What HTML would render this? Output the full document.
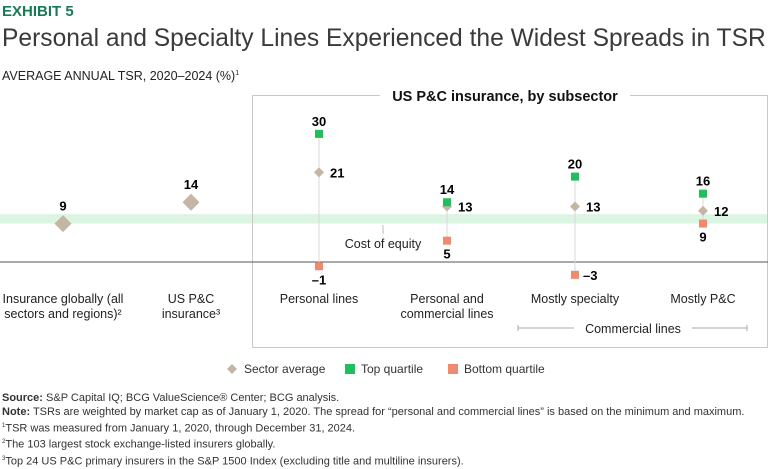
<!DOCTYPE html>
<html><head><meta charset="utf-8"><style>
body{margin:0;width:768px;height:461px;background:#fff;font-family:"Liberation Sans",sans-serif;overflow:hidden;position:relative}
.t{position:absolute;white-space:nowrap}
</style></head><body>
<div class="t" style="left:2px;top:3px;font-size:15px;font-weight:bold;color:#197a56">EXHIBIT 5</div>
<div class="t" style="left:2px;top:25px;font-size:24.6px;color:#3a3a3a">Personal and Specialty Lines Experienced the Widest Spreads in TSR</div>
<div class="t" style="left:2px;top:69px;font-size:12.5px;color:#222">AVERAGE ANNUAL TSR, 2020–2024 (%)<sup style="font-size:7px">1</sup></div>
<svg id="chart" width="768" height="461" style="position:absolute;left:0;top:0" font-family="Liberation Sans, sans-serif"></svg>
<div class="t" style="left:2px;top:392px;font-size:11px;line-height:13.8px;color:#333">
<b>Source:</b> S&amp;P Capital IQ; BCG ValueScience® Center; BCG analysis.<br>
<b>Note:</b> TSRs are weighted by market cap as of January 1, 2020. The spread for “personal and commercial lines” is based on the minimum and maximum.<br>
<sup style="font-size:6px">1</sup>TSR was measured from January 1, 2020, through December 31, 2024.<br>
<sup style="font-size:6px">2</sup>The 103 largest stock exchange-listed insurers globally.<br>
<sup style="font-size:6px">3</sup>Top 24 US P&amp;C primary insurers in the S&amp;P 1500 Index (excluding title and multiline insurers).</div>
<script>
const categories=["Insurance globally (all|sectors and regions)²","US P&C|insurance³","Personal lines","Personal and|commercial lines","Mostly specialty","Mostly P&C"];
const avgValues=[9,14,21,13,13,12];
const topValues=[null,null,30,14,20,16];
const bottomValues=[null,null,-1,5,-3,9];
const costOfEquityBand=[9,11.2];
const NS="http://www.w3.org/2000/svg";
const svg=document.getElementById('chart');
const y=v=>262-v*4.27;
const x=i=>63+i*128;
function el(tag,attrs,parent){const e=document.createElementNS(NS,tag);for(const k in attrs)e.setAttribute(k,attrs[k]);(parent||svg).appendChild(e);return e;}
function txt(s,a){const e=el('text',a);e.textContent=s;return e;}
let b=el('rect',{x:0,y:y(costOfEquityBand[1]),width:768,height:y(costOfEquityBand[0])-y(costOfEquityBand[1]),fill:'#dcf5e2'});


let bx=el('path',{d:'M380,95.5 H252.5 V347.5 H767.5 V95.5 H630',fill:'none',stroke:'#c8c8c8'});


let bt=txt('US P&C insurance, by subsector',{x:505,y:101,'text-anchor':'middle','font-size':14.5,'font-weight':'bold',fill:'#111'});


let z=el('line',{x1:0,x2:768,y1:y(0),y2:y(0),stroke:'#555'});


let cl=el('line',{x1:383,x2:383,y1:225,y2:234,stroke:'#bbb'});


let ct=txt('Cost of equity',{x:383,y:248,'text-anchor':'middle','font-size':12.5,fill:'#222'});


categories.forEach((c,i)=>{
  const cx=x(i);
  if(topValues[i]!==null){
    let rl=el('line',{x1:cx,x2:cx,y1:y(topValues[i]),y2:y(bottomValues[i]),stroke:'#d8d8d8'});
    
    
  }
  const big=topValues[i]===null, r=big?8.5:5;
  const ay=y(avgValues[i]);
  let d=el('polygon',{points:`${cx},${ay-r} ${cx+r},${ay} ${cx},${ay+r} ${cx-r},${ay}`,fill:'#c4b5a5'});
  
  
  let al=big?txt(avgValues[i],{x:cx,y:ay-13,'text-anchor':'middle','font-size':13,'font-weight':'bold'}):txt(avgValues[i],{x:cx+11,y:ay+5,'font-size':13,'font-weight':'bold'});
  
  
  if(!big){
    const ty=y(topValues[i]);
    let s=el('rect',{x:cx-4,y:ty-4,width:8,height:8,fill:'#21bf5b'});
    
    
    let tl=txt(topValues[i],{x:cx,y:ty-8,'text-anchor':'middle','font-size':13,'font-weight':'bold'});
    
    
    const by=y(bottomValues[i]);
    let q=el('rect',{x:cx-4,y:by-4,width:8,height:8,fill:'#f08a6e'});
    
    
    const lab=bottomValues[i]<0?'–'+Math.abs(bottomValues[i]):String(bottomValues[i]);
    let bl=i===4?txt(lab,{x:cx+8,y:by+5,'font-size':13,'font-weight':'bold'}):txt(lab,{x:cx,y:by+18,'text-anchor':'middle','font-size':13,'font-weight':'bold'});
    
    
  }
  c.split('|').forEach((ln,k)=>{
    let t=txt(ln,{x:cx,y:303+k*15,'text-anchor':'middle','font-size':12.5,fill:'#222'});
    
    
  });
});
let br=el('path',{d:'M518,325 V331 M518,328 H574 M692,328 H747 M747,325 V331',stroke:'#aaa',fill:'none'});


let bl2=txt('Commercial lines',{x:633,y:333,'text-anchor':'middle','font-size':12.5,fill:'#222'});


let lg=el('g',{});


let l1=el('polygon',{points:'232,364 237,369 232,374 227,369',fill:'#c4b5a5'},lg);


let l1t=txt('Sector average',{x:244,y:373,'font-size':12,fill:'#333'});lg.appendChild(l1t);


let l2=el('rect',{x:345,y:364,width:10,height:10,fill:'#21bf5b'},lg);


let l2t=txt('Top quartile',{x:361,y:373,'font-size':12,fill:'#333'});lg.appendChild(l2t);


let l3=el('rect',{x:448,y:364,width:10,height:10,fill:'#f08a6e'},lg);


let l3t=txt('Bottom quartile',{x:464,y:373,'font-size':12,fill:'#333'});lg.appendChild(l3t);


</script>
</body></html>
